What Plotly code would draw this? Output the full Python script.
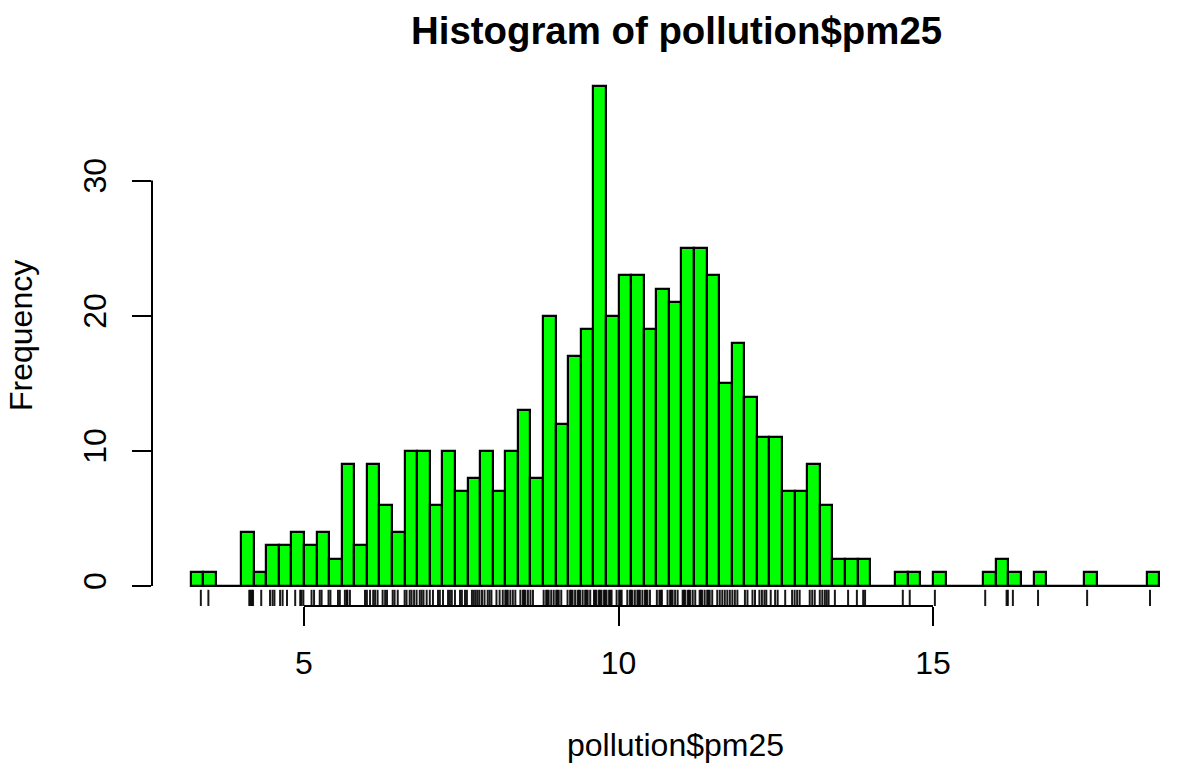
import plotly.graph_objects as go

# Histogram bins (width 0.2) starting at 3.2
bin_start = 3.2
bin_width = 0.2
counts = [1, 1, 0, 0, 4, 1, 3, 3, 4, 3,
          4, 2, 9, 3, 9, 6, 4, 10, 10, 6,
          10, 7, 8, 10, 7, 10, 13, 8, 20, 12,
          17, 19, 37, 20, 23, 23, 19, 22, 21, 25,
          25, 23, 15, 18, 14, 11, 11, 7, 7, 9,
          6, 2, 2, 2, 0, 0, 1, 1, 0, 1,
          0, 0, 0, 1, 2, 1, 0, 1, 0, 0,
          0, 1, 0, 0, 0, 0, 1]

# rug values
rug_values = [
    3.36, 3.48, 4.13, 4.15, 4.17, 4.19, 4.32, 4.46, 4.50, 4.53, 4.62, 4.66, 4.73,
    4.86, 4.94, 4.96, 4.99, 5.12, 5.16, 5.25, 5.28, 5.39, 5.42, 5.54, 5.57,
    5.65, 5.68, 5.69, 5.73, 5.97, 6.00, 6.05, 6.10, 6.13, 6.17, 6.25, 6.29, 6.32,
    6.41, 6.44, 6.49, 6.60, 6.63, 6.68, 6.71, 6.75, 6.79, 6.84, 6.87, 6.90, 6.95,
    7.00, 7.05, 7.13, 7.16, 7.21, 7.29, 7.32, 7.35, 7.40, 7.48, 7.51, 7.56, 7.59,
    7.67, 7.70, 7.73, 7.76, 7.79, 7.83, 7.87, 7.92, 7.95, 7.98, 8.06, 8.11, 8.16,
    8.20, 8.22, 8.24, 8.28, 8.32, 8.36, 8.44, 8.48, 8.50, 8.52, 8.56, 8.60, 8.64,
    8.81, 8.85, 8.87, 8.89, 8.93, 8.97, 9.01, 9.03, 9.05, 9.09, 9.19, 9.23, 9.25, 9.27, 9.31,
    9.35, 9.37, 9.39, 9.43, 9.47, 9.49, 9.51, 9.55, 9.61, 9.63, 9.65, 9.69, 9.71, 9.73, 9.77, 9.79, 9.81,
    9.85, 9.87, 9.89, 9.97, 10.01, 10.03, 10.05, 10.14, 10.18, 10.20, 10.22, 10.26, 10.30, 10.32, 10.34,
    10.38, 10.42, 10.44, 10.46, 10.50, 10.61, 10.65, 10.67, 10.69, 10.78, 10.82, 10.84, 10.86,
    10.90, 10.94, 11.02, 11.04, 11.06, 11.10, 11.12, 11.14, 11.18, 11.22, 11.29, 11.31, 11.33,
    11.37, 11.41, 11.43, 11.45, 11.49, 11.57, 11.61, 11.65, 11.69, 11.73, 11.77,
    11.81, 11.85, 11.89, 12.01, 12.05, 12.13, 12.17, 12.24, 12.28, 12.32,
    12.35, 12.42, 12.49, 12.53, 12.65, 12.76, 12.80, 12.84, 12.88, 13.04,
    13.08, 13.12, 13.20, 13.24, 13.28, 13.31, 13.34, 13.44, 13.65, 13.79,
    13.89, 13.92, 14.52, 14.63, 15.03, 15.83, 16.17, 16.19, 16.27, 16.67,
    17.45, 18.45]

x_ticks = [5, 10, 15]
y_ticks = [0, 10, 20, 30]

n_bins = len(counts)
edges = [bin_start + i * bin_width for i in range(n_bins + 1)]
centers = [bin_start + (i + 0.5) * bin_width for i in range(n_bins)]

xlo, xhi = edges[0], edges[-1]
ymax = max(counts)
y_range = [-0.04 * ymax, ymax * 1.04]

# full-window figure (page body margin removed below)
W, H = 1186, 772
plot_left, plot_top, plot_bottom, plot_right = 152, 66, 606, 1170
L, T, B, R = plot_left, plot_top, H - plot_bottom, W - plot_right
PW, PH = W - L - R, H - T - B
pxu = (933 - 304) / 10.0
x_range = [5 - (304 - plot_left) / pxu, 5 + (plot_right - 304) / pxu]

FONT = "Arial, Liberation Sans, Helvetica, sans-serif"

fig = go.Figure()

# baseline for empty bins
fig.add_trace(go.Scatter(x=[xlo, xhi], y=[0, 0], mode="lines",
                         line=dict(color="black", width=2),
                         hoverinfo="skip", showlegend=False))

fig.add_trace(go.Bar(x=centers, y=counts, width=[bin_width] * n_bins,
                     marker=dict(color="#00FF00", line=dict(color="black", width=2.2)),
                     showlegend=False))

# rug
span = y_range[1] - y_range[0]
rx, ry = [], []
for v in rug_values:
    rx += [v, v, None]
    ry += [y_range[0], y_range[0] + 0.03 * span, None]
fig.add_trace(go.Scatter(x=rx, y=ry, mode="lines",
                         line=dict(color="rgba(0,0,0,0.9)", width=2),
                         hoverinfo="skip", showlegend=False, cliponaxis=False))

# R-style axis lines
fig.add_shape(type="line", xref="x", yref="paper", x0=min(x_ticks), x1=max(x_ticks),
              y0=0, y1=0, line=dict(color="black", width=2))
fig.add_shape(type="line", xref="paper", yref="y", x0=0, x1=0,
              y0=min(y_ticks), y1=max(y_ticks), line=dict(color="black", width=2))

def px_x(ax):
    return (ax - plot_left) / PW

def px_y(ay):
    return (plot_bottom - ay) / PH

fig.update_layout(
    width=W, height=H,
    margin=dict(l=L, r=R, t=T, b=B, pad=0),
    plot_bgcolor="white", paper_bgcolor="white",
    bargap=0,
    font=dict(family=FONT, color="black", size=32),
    xaxis=dict(range=x_range, tickvals=x_ticks, ticktext=[str(t) for t in x_ticks],
               ticks="outside", ticklen=19, tickwidth=2, tickcolor="black",
               showline=False, showgrid=False, zeroline=False,
               ticklabelstandoff=10, tickfont=dict(size=32)),
    yaxis=dict(range=y_range, tickvals=y_ticks, ticktext=[str(t) for t in y_ticks],
               ticks="outside", ticklen=19, tickwidth=2, tickcolor="black",
               showline=False, showgrid=False, zeroline=False,
               tickangle=-90, ticklabelstandoff=13, tickfont=dict(size=32)),
    annotations=[
        dict(text="<b>Histogram of pollution$pm25</b>", xref="paper", yref="paper",
             x=px_x(676), y=px_y(31),
             xanchor="center", yanchor="middle", showarrow=False,
             font=dict(size=38.4, family=FONT)),
        dict(text="pollution$pm25", xref="paper", yref="paper",
             x=px_x(675), y=px_y(745),
             xanchor="center", yanchor="middle", showarrow=False,
             font=dict(size=32, family=FONT)),
        dict(text="Frequency", xref="paper", yref="paper", textangle=-90,
             x=px_x(21), y=px_y(336),
             xanchor="center", yanchor="middle", showarrow=False,
             font=dict(size=32, family=FONT)),
    ],
)

fig.write_html("out.html", config={"displayModeBar": False},
               post_script="document.body.style.margin='0';document.body.style.overflow='hidden';")
